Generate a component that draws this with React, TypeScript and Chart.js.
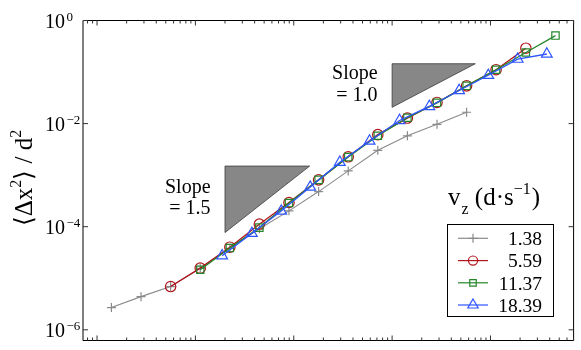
import React, { useEffect, useRef } from "react";
import { Chart, registerables } from "chart.js";
Chart.register(...registerables);

// Series data (x: time-like quantity, y: <Δx²>/d²)
const xGray = [0.014, 0.028, 0.056, 0.112, 0.224, 0.447, 0.894, 1.79, 3.58, 7.15, 14.3, 28.6, 57.2];
const yGray = [2.7e-6, 4.4e-6, 6.9e-6, 1.56e-5, 3.8e-5, 9.1e-5, 2.03e-4, 4.8e-4, 1.21e-3, 3.03e-3, 5.8e-3, 9.7e-3, 1.66e-2];
const xRed = [0.056, 0.112, 0.224, 0.447, 0.894, 1.79, 3.58, 7.15, 14.3, 28.6, 57.2, 114, 229];
const yRed = [6.9e-6, 1.57e-5, 4.0e-5, 1.12e-4, 2.95e-4, 8.1e-4, 2.27e-3, 6.1e-3, 1.28e-2, 2.57e-2, 5.4e-2, 0.111, 0.29];
const xGreen = [0.112, 0.224, 0.447, 0.894, 1.79, 3.58, 7.15, 14.3, 28.6, 57.2, 114, 229, 458];
const yGreen = [1.46e-5, 3.85e-5, 9.6e-5, 2.87e-4, 8.1e-4, 2.24e-3, 5.8e-3, 1.3e-2, 2.53e-2, 5.4e-2, 0.111, 0.239, 0.51];
const xBlue = [0.187, 0.375, 0.746, 1.47, 2.94, 5.9, 11.9, 23.9, 48, 95, 189, 374];
const yBlue = [2.73e-5, 7.45e-5, 2.01e-4, 5.86e-4, 1.78e-3, 4.6e-3, 1.15e-2, 2.15e-2, 4.39e-2, 8.65e-2, 0.178, 0.224];

const legendLabels = ["1.38", "5.59", "11.37", "18.39"];

// Axis ticks
const yTickValues = [1, 1e-2, 1e-4, 1e-6];
const yTickExponents = ["0", "\u22122", "\u22124", "\u22126"];
const xMajorTicks = [0.01, 0.1, 1, 10, 100];
const xMinorMultipliers = [2, 3, 4, 5, 6, 7, 8, 9];
const xExtraMinor = [0.008, 0.009];

// Slope guide triangles: [xLeft, xRight, yTop, yBottom]
const slopeTri1 = [0.2, 1.45, 1.5e-3, 7.7e-5];
const slopeTri1Label = ["Slope", "= 1.5"];
const slopeTri2 = [10, 70, 0.145, 0.0207];
const slopeTri2Label = ["Slope", "= 1.0"];

const SERIF = '"Liberation Serif", "Times New Roman", serif';

const colors = ["#8a8a8a", "#b0141c", "#23862a", "#2f55ff"];
const styles = ["cross", "circle", "rect", "triangle"];
const radii = [4.5, 5.2, 5.2, 6.2];

function pts(xs: number[], ys: number[]) {
  return xs.map((x, i) => ({ x, y: ys[i] }));
}

function drawMarker(ctx: CanvasRenderingContext2D, style: string, x: number, y: number, r: number) {
  ctx.beginPath();
  if (style === "cross") {
    ctx.moveTo(x - r, y);
    ctx.lineTo(x + r, y);
    ctx.moveTo(x, y - r);
    ctx.lineTo(x, y + r);
  } else if (style === "circle") {
    ctx.arc(x, y, r, 0, Math.PI * 2);
  } else if (style === "rect") {
    const s = r * Math.SQRT1_2;
    ctx.rect(x - s, y - s, 2 * s, 2 * s);
  } else if (style === "triangle") {
    let a = 0;
    ctx.moveTo(x + Math.sin(a) * r, y - Math.cos(a) * r);
    a += (2 * Math.PI) / 3;
    ctx.lineTo(x + Math.sin(a) * r, y - Math.cos(a) * r);
    a += (2 * Math.PI) / 3;
    ctx.lineTo(x + Math.sin(a) * r, y - Math.cos(a) * r);
    ctx.closePath();
  }
  ctx.stroke();
}

const decorPlugin = {
  id: "decor",
  beforeDatasetsDraw(chart: any) {
    const { ctx, scales } = chart;
    const xs = scales.x;
    const ys = scales.y;
    const tris = [
      [slopeTri1, slopeTri1Label],
      [slopeTri2, slopeTri2Label],
    ] as any[];
    for (const [t, lab] of tris) {
      const l = xs.getPixelForValue(t[0]);
      const r = xs.getPixelForValue(t[1]);
      const top = ys.getPixelForValue(t[2]);
      const bot = ys.getPixelForValue(t[3]);
      ctx.save();
      ctx.beginPath();
      ctx.moveTo(l, top);
      ctx.lineTo(r, top);
      ctx.lineTo(l, bot);
      ctx.closePath();
      ctx.fillStyle = "#878787";
      ctx.fill();
      ctx.strokeStyle = "#3a3a3a";
      ctx.lineWidth = 0.8;
      ctx.stroke();
      const mid = (top + bot) / 2;
      ctx.fillStyle = "#000";
      ctx.font = "20px " + SERIF;
      ctx.textAlign = "right";
      ctx.textBaseline = "alphabetic";
      ctx.fillText(lab[0], l - 14.5, mid - 6.5);
      ctx.fillText(lab[1], l - 14.5, mid + 15);
      ctx.restore();
    }
  },
  afterDraw(chart: any) {
    const { ctx, scales, chartArea } = chart;
    const xs = scales.x;
    const ys = scales.y;
    const { left, right, top, bottom } = chartArea;
    ctx.save();
    // frame
    ctx.strokeStyle = "#000";
    ctx.lineWidth = 1;
    ctx.beginPath();
    ctx.moveTo(left, top);
    ctx.lineTo(right, top);
    ctx.moveTo(left, bottom);
    ctx.lineTo(right, bottom);
    ctx.moveTo(left, top);
    ctx.lineTo(left, bottom);
    ctx.moveTo(right, top);
    ctx.lineTo(right, bottom);
    ctx.stroke();

    // x ticks
    ctx.strokeStyle = "#333";
    const drawXTick = (v: number, len: number) => {
      const px = xs.getPixelForValue(v);
      if (px < left - 0.5 || px > right + 0.5) return;
      ctx.beginPath();
      ctx.moveTo(px, bottom);
      ctx.lineTo(px, bottom - len);
      ctx.moveTo(px, top);
      ctx.lineTo(px, top + len);
      ctx.stroke();
    };
    for (const m of xMajorTicks) {
      drawXTick(m, 5);
      for (const k of xMinorMultipliers) drawXTick(m * k, 3);
    }
    for (const v of xExtraMinor) drawXTick(v, 3);

    // y ticks + labels
    for (let i = 0; i < yTickValues.length; i++) {
      const py = ys.getPixelForValue(yTickValues[i]);
      ctx.strokeStyle = "#333";
      ctx.beginPath();
      ctx.moveTo(left, py);
      ctx.lineTo(left + 5, py);
      ctx.moveTo(right, py);
      ctx.lineTo(right - 5, py);
      ctx.stroke();
      ctx.fillStyle = "#000";
      ctx.textAlign = "left";
      ctx.textBaseline = "alphabetic";
      ctx.font = "20px " + SERIF;
      const bx = 45;
      ctx.fillText("10", bx, py + 7.3);
      const w = ctx.measureText("10").width;
      ctx.font = "13px " + SERIF;
      ctx.fillText(yTickExponents[i], bx + w + 1.5, py);
    }

    // y axis title (rotated)
    ctx.save();
    ctx.translate(32, 178);
    ctx.rotate(-Math.PI / 2);
    ctx.fillStyle = "#000";
    ctx.textBaseline = "alphabetic";
    ctx.textAlign = "left";
    const big = "25px " + SERIF;
    const small = "16px " + SERIF;
    const parts: [string, string, number][] = [
      ["\u27E8\u0394x", big, 0],
      ["2", small, -11],
      ["\u27E9 / d", big, 0],
      ["2", small, -11],
    ];
    let total = 0;
    for (const [t, f] of parts) {
      ctx.font = f;
      total += ctx.measureText(t).width;
    }
    let cx = -total / 2;
    for (const [t, f, dy] of parts) {
      ctx.font = f;
      ctx.fillText(t, cx, dy);
      cx += ctx.measureText(t).width;
    }
    ctx.restore();

    // legend title
    ctx.fillStyle = "#000";
    ctx.textAlign = "left";
    let tx = 448;
    ctx.font = "25px " + SERIF;
    ctx.fillText("v", tx, 205);
    tx += ctx.measureText("v").width + 1;
    ctx.font = "16px " + SERIF;
    ctx.fillText("z", tx, 214);
    tx += ctx.measureText("z").width;
    ctx.font = "25px " + SERIF;
    ctx.fillText(" (d\u00B7s", tx, 205);
    tx += ctx.measureText(" (d\u00B7s").width;
    ctx.font = "16px " + SERIF;
    ctx.fillText("\u22121", tx, 194);
    tx += ctx.measureText("\u22121").width + 1;
    ctx.font = "25px " + SERIF;
    ctx.fillText(")", tx, 205);

    // legend box
    ctx.fillStyle = "#fff";
    ctx.fillRect(447.5, 224.5, 106, 92);
    ctx.strokeStyle = "#000";
    ctx.lineWidth = 1;
    ctx.strokeRect(447.5, 224.5, 106, 92);
    const rowY = [238.3, 260.6, 282.8, 305];
    for (let i = 0; i < legendLabels.length; i++) {
      const cy = rowY[i];
      ctx.strokeStyle = colors[i];
      ctx.lineWidth = 1.2;
      ctx.beginPath();
      ctx.moveTo(458, cy);
      ctx.lineTo(488, cy);
      ctx.stroke();
      drawMarker(ctx, styles[i], 473, cy, i === 0 ? 4.5 : i === 3 ? 6 : 4.6);
      ctx.fillStyle = "#000";
      ctx.font = "19.5px " + SERIF;
      ctx.textAlign = "right";
      ctx.fillText(legendLabels[i], 542, cy + 6.8);
    }
    ctx.restore();
  },
};

export default function App() {
  const ref = useRef<HTMLCanvasElement>(null);
  useEffect(() => {
    if (!ref.current) return;
    const series = [
      pts(xGray, yGray),
      pts(xRed, yRed),
      pts(xGreen, yGreen),
      pts(xBlue, yBlue),
    ];
    const chart = new Chart(ref.current, {
      type: "line",
      data: {
        datasets: series.map((d, i) => ({
          label: legendLabels[i],
          data: d,
          borderColor: colors[i],
          borderWidth: i === 0 ? 1.1 : 1.3,
          pointStyle: styles[i] as any,
          pointRadius: radii[i],
          pointBorderColor: colors[i],
          pointBorderWidth: 1.2,
          pointBackgroundColor: "rgba(0,0,0,0)",
          fill: false,
          tension: 0,
          order: 4 - i,
        })),
      },
      options: {
        animation: false,
        responsive: false,
        events: [],
        layout: { padding: { left: 83, right: 4, top: 20.5, bottom: 9.5 } },
        scales: {
          x: { type: "logarithmic", min: 0.0072, max: 700, display: false },
          y: { type: "logarithmic", min: 6.2e-7, max: 1, display: false },
        },
        plugins: { legend: { display: false }, tooltip: { enabled: false } },
      },
      plugins: [decorPlugin],
    });
    return () => chart.destroy();
  }, []);
  return (
    <div style={{ position: "fixed", left: 0, top: 0, width: 581, height: 350, background: "#fff" }}>
      <canvas ref={ref} width={581} height={350} style={{ display: "block", width: 581, height: 350 }} />
    </div>
  );
}
